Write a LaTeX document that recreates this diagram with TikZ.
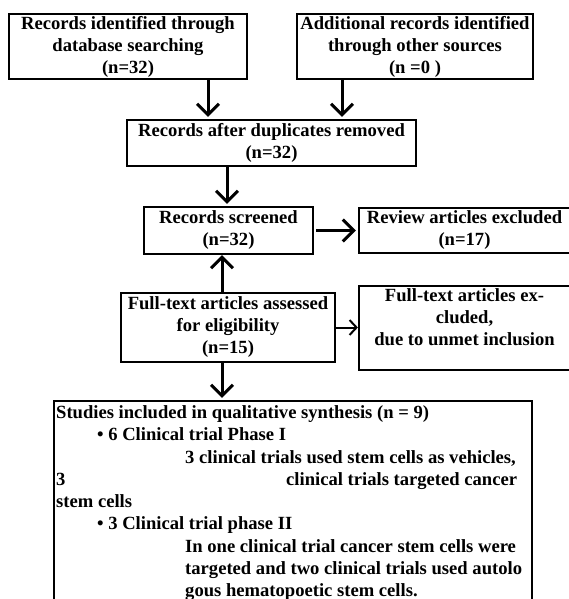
\documentclass[tikz,border=0pt]{standalone}
\usepackage{fontspec}
\setmainfont{Liberation Serif}
\usetikzlibrary{arrows.meta,positioning}
\tikzset{
  box/.style={
    draw,
    line width = 2.2pt,
    inner sep = 0pt,
    align = center,
    font = \fontsize{18.6}{22}\selectfont\bfseries
  },
}
\tikzset{
  flow/.style={
    line width = 3pt,
    -{Straight Barb[length=11pt,width=22pt]},
    shorten >= 2pt
  },
  thinflow/.style={
    line width = 2pt,
    -{Straight Barb[length=7pt,width=15pt]}
  },
  txt/.style={
    anchor = base west,
    inner sep = 0pt,
    font = \fontsize{18.6}{22}\selectfont\bfseries
  }
}
\begin{document}
\begin{tikzpicture}[x=1pt,y=-1pt]
    \useasboundingbox (0,0) rectangle (568,599);
    \def\ax{208}
    \def\bx{342}
    \def\cx{227}
    \def\dx{222}
    % boxes
    \node[box, minimum width=238, minimum height=65] (id) at (128,46.5)
        {Records identified through\\database searching\\(n=32)};
    \node[box, minimum width=236, minimum height=65] (other) at (415,46.5)
        {Additional records identified\\through other sources\\(n =0 )};
    \node[box, minimum width=289, minimum height=46] (dup) at (271.5,143)
        {Records after duplicates removed\\(n=32)};
    \node[box, minimum width=169, minimum height=47] (screen) at (228.5,230.5)
        {Records screened\\(n=32)};
    \node[box, minimum width=211, minimum height=45] (review) at (464.5,230.5)
        {Review articles excluded\\(n=17)};
    \node[box, minimum width=214, minimum height=69] (full) at (228,327.5)
        {Full-text articles assessed\\for eligibility\\(n=15)};
    \node[box, minimum width=211, minimum height=84] (excl) at (464.5,328)
        {Full-text articles ex-\\cluded,\\due to unmet inclusion\\\mbox{}};
    \node[box, minimum width=478, minimum height=205] (incl) at (293,503.5) {};
    % lines of the last box
    \node[txt] (l1) at (56,418) {Studies included in qualitative synthesis (n = 9)};
    \node[txt] (l2) at (97,440) {• 6 Clinical trial Phase I};
    \node[txt] (l3) at (185,463) {3 clinical trials used stem cells as vehicles,};
    \node[txt] (l4) at (56,485) {3};
    \node[txt] (l5) at (286,485) {clinical trials targeted cancer};
    \node[txt] (l6) at (56,507) {stem cells};
    \node[txt] (l7) at (97,529) {• 3 Clinical trial phase II};
    \node[txt] (l8) at (185,552) {In one clinical trial cancer stem cells were};
    \node[txt] (l9) at (185,574) {targeted and two clinical trials used autolo};
    \node[txt] (l10) at (185,596) {gous hematopoetic stem cells.};
    % arrows
    \draw[flow] (id.south -| \ax,0) -- (dup.north -| \ax,0);
    \draw[flow] (other.south -| \bx,0) -- (dup.north -| \bx,0);
    \draw[flow] (dup.south -| \cx,0) -- (screen.north -| \cx,0);
    \draw[flow, shorten <= 2pt] (screen.east) -- (review.west);
    \draw[flow, shorten >= 0pt] (full.north -| \dx,0) -- (screen.south -| \dx,0);
    \draw[thinflow] (full.east) -- (excl.west |- full.east);
    \draw[flow] (full.south -| \dx,0) -- (incl.north -| \dx,0);
\end{tikzpicture}
\end{document}
